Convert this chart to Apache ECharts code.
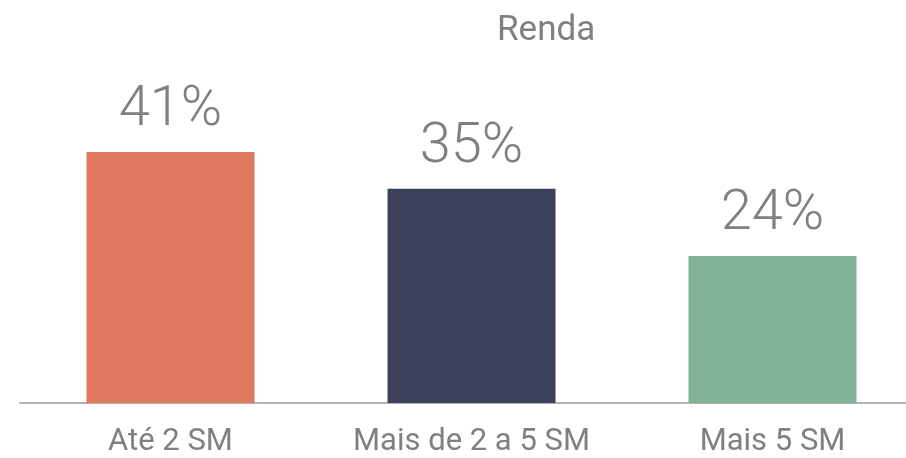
<!DOCTYPE html>
<html>
<head>
<meta charset="utf-8">
<style>
  html, body { margin: 0; padding: 0; background: #fff; }
  #chart { width: 906px; height: 458px; }
</style>
<script src="https://cdn.jsdelivr.net/npm/echarts@6/dist/echarts.min.js"></script>
</head>
<body>
<div id="chart"></div>
<script>
// dados
var categorias = ['Até 2 SM', 'Mais de 2 a 5 SM', 'Mais 5 SM'];
var valores = [41, 35, 24];
var cores = ['#E07A5F', '#3D405B', '#81B29A'];

var myChart = echarts.init(document.getElementById('chart'));

var option = {
    backgroundColor: '#fff',
    title: {
        text: 'Renda',
        left: 492,
        top: 9,
        textStyle: {
            fontFamily: 'Roboto',
            fontWeight: 'normal',
            fontSize: 35,
            color: '#808080'
        }
    },
    grid: {
        left: 20,
        top: 97,
        width: 903,
        bottom: 55,
        outerBoundsMode: 'none'
    },
    xAxis: {
        type: 'category',
        data: categorias,
        axisTick: { show: false },
        axisLine: {
            lineStyle: { color: '#b3b3b3', width: 2 }
        },
        axisLabel: {
            interval: 0,
            margin: 24,
            fontFamily: 'Roboto',
            fontSize: 31,
            color: '#808080'
        }
    },
    yAxis: {
        type: 'value',
        min: 0,
        max: 50,
        show: false,
        splitLine: { show: false }
    },
    series: [{
        type: 'bar',
        barWidth: 168,
        data: valores.map(function (v, i) {
            return { value: v, itemStyle: { color: cores[i] } };
        }),
        label: {
            show: true,
            position: 'top',
            distance: 13,
            formatter: '{c}%',
            fontFamily: 'Roboto',
            fontWeight: 300,
            fontSize: 56,
            color: '#808080'
        }
    }]
};
myChart.setOption(option);
</script>
</body>
</html>
